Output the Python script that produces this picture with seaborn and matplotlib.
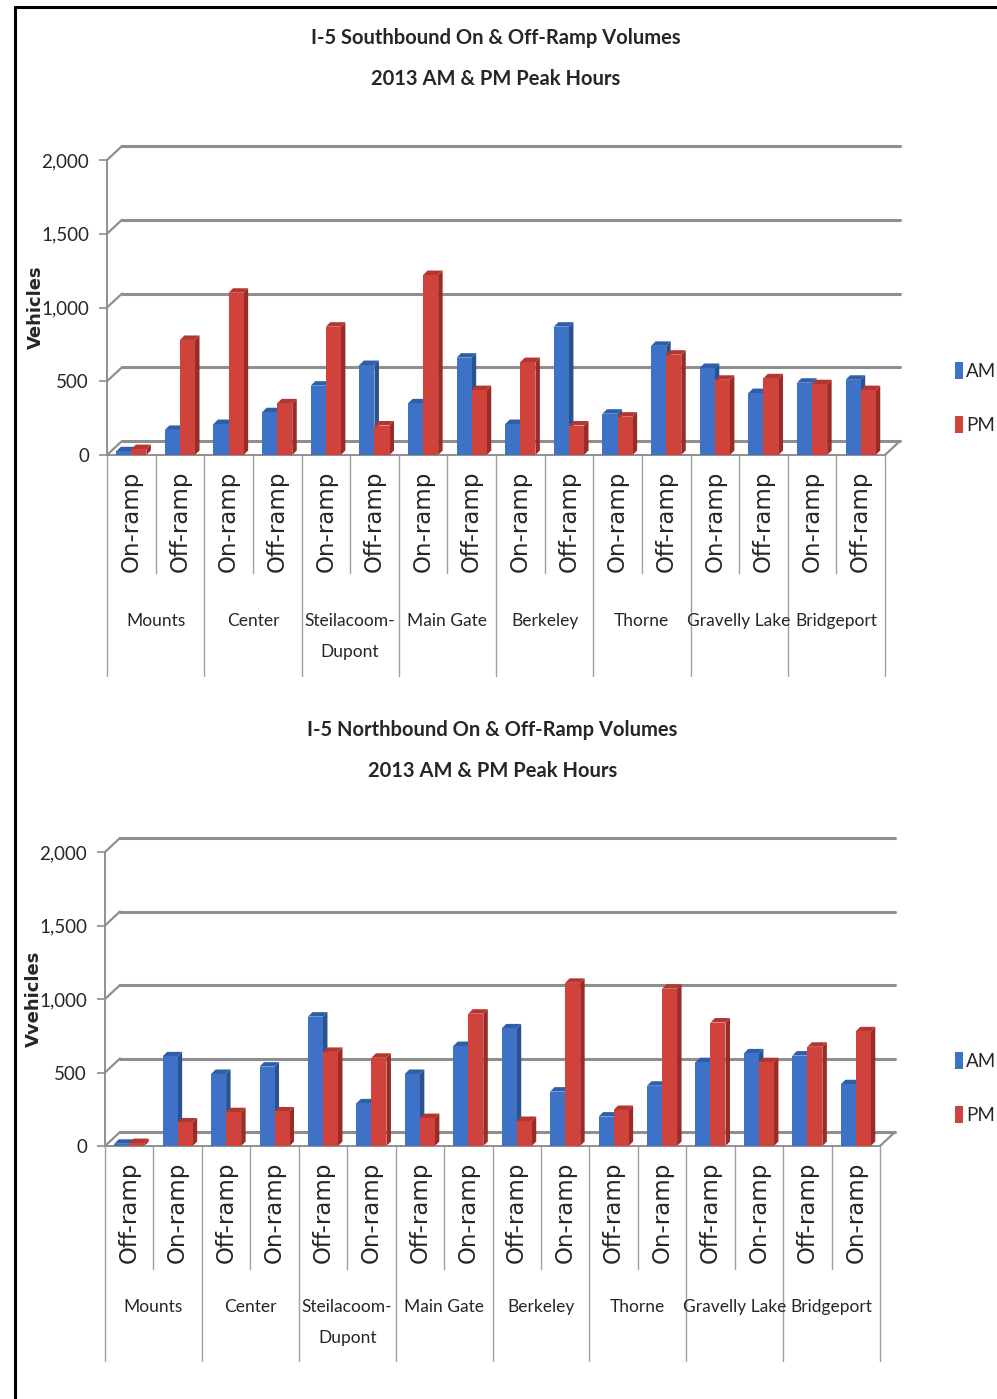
import numpy as np
import pandas as pd
import matplotlib
matplotlib.use("Agg")
import matplotlib.pyplot as plt
import seaborn as sns
from matplotlib.patches import Polygon, Patch
from matplotlib.lines import Line2D

# interchanges along I-5
groups = ["Mounts", "Center", "Steilacoom-\nDupont", "Main Gate",
          "Berkeley", "Thorne", "Gravelly Lake", "Bridgeport"]

# southbound: on-ramp then off-ramp per interchange
sb_ramps = ["On-ramp", "Off-ramp"] * 8
sb_am = [25, 170, 210, 290, 470, 610, 350, 660, 210, 870, 280, 740, 590, 420, 490, 510]
sb_pm = [40, 780, 1100, 350, 870, 200, 1220, 440, 630, 200, 260, 680, 510, 520, 480, 440]

# northbound: off-ramp then on-ramp per interchange
nb_ramps = ["Off-ramp", "On-ramp"] * 8
nb_am = [15, 610, 490, 540, 880, 290, 490, 680, 800, 370, 200, 410, 570, 630, 615, 420]
nb_pm = [20, 160, 230, 235, 640, 600, 190, 900, 170, 1110, 245, 1070, 840, 570, 675, 780]

periods = ["AM", "PM"]
colors = ["#3D72C6", "#D0423C"]
side_colors = ["#2A528F", "#9A2C27"]
top_colors = ["#2E5FA8", "#B5352F"]
yticks = [0, 500, 1000, 1500, 2000]
grid_color = "#8F8F8F"

sns.set_style("white")
plt.rcParams["font.family"] = ["Lato", "DejaVu Sans"]

W, H = 997, 1399
fig = plt.figure(figsize=(W / 100, H / 100), dpi=100)


def draw_panel(rect, ramps, am, pm, title, ylabel, sep_short, sep_long, grp_y, legend_y):
    left, top, right, bottom = rect
    ax = fig.add_axes([left / W, 1 - bottom / H, (right - left) / W, (bottom - top) / H])
    pos = [f"{i:02d}" for i in range(len(ramps))]
    df = pd.DataFrame({
        "pos": pos * 2,
        "period": ["AM"] * len(am) + ["PM"] * len(pm),
        "vehicles": am + pm,
    })
    sns.barplot(data=df, x="pos", y="vehicles", hue="period", order=pos,
                hue_order=periods, palette=colors, saturation=1, width=0.62,
                legend=False, ax=ax, zorder=3, linewidth=0, edgecolor="none")
    ax.set_xlim(-0.5, len(ramps) - 0.5)
    ax.set_ylim(0, 2000)

    # pixel -> data scale, for the fake 3D depth
    sx = ax.bbox.width / len(ramps)
    sy = ax.bbox.height / 2000
    dx, dy = 15 / sx, 14 / sy
    bdx, bdy = 4.5 / sx, 4.5 / sy
    x0, x1 = -0.5, len(ramps) - 0.5

    # back wall gridlines + floor
    for v in yticks:
        ax.plot([x0, x0 + dx], [v, v + dy], color=grid_color, lw=1.6, clip_on=False, zorder=1)
        ax.plot([x0 + dx, x1 + dx], [v + dy, v + dy], color=grid_color, lw=2.2,
                clip_on=False, zorder=1)
    ax.plot([x1, x1 + dx], [0, dy], color=grid_color, lw=1.6, clip_on=False, zorder=1)

    # bar side and top faces
    for p in ax.patches:
        x, w, h = p.get_x(), p.get_width(), p.get_height()
        k = 0 if p.get_facecolor()[2] > 0.5 else 1
        side = Polygon([(x + w, 0), (x + w, h), (x + w + bdx, h + bdy), (x + w + bdx, bdy)],
                       closed=True, facecolor=side_colors[k], edgecolor="none", zorder=2,
                       clip_on=False)
        cap = Polygon([(x, h), (x + w, h), (x + w + bdx, h + bdy), (x + bdx, h + bdy)],
                      closed=True, facecolor=top_colors[k], edgecolor="none", zorder=2.5,
                      clip_on=False)
        ax.add_patch(side)
        ax.add_patch(cap)

    for s in ["top", "right"]:
        ax.spines[s].set_visible(False)
    for s in ["left", "bottom"]:
        ax.spines[s].set_color(grid_color)
        ax.spines[s].set_linewidth(1.4)

    ax.set_yticks(yticks)
    ax.set_yticklabels([f"{v:,}" for v in yticks], fontsize=13.5)
    ax.tick_params(axis="y", length=6, width=1.2, color=grid_color, pad=7, left=True)
    ax.set_xticks(range(len(ramps)))
    ax.set_xticklabels(ramps, rotation=90, fontsize=16.5, family="DejaVu Sans")
    ax.tick_params(axis="x", length=0, pad=11)
    ax.set_xlabel("")
    ax.set_ylabel(ylabel, fontsize=13, fontweight="bold", family="DejaVu Sans")
    ax.yaxis.set_label_coords(-0.08, 0.5)

    # category separators below the axis
    trans = ax.get_xaxis_transform()
    for i in range(len(ramps) + 1):
        xb = i - 0.5
        yb = sep_long if i % 2 == 0 else sep_short
        ax.plot([xb, xb], [0, yb], transform=trans, color="#A0A0A0", lw=1.0, clip_on=False)
    for g, name in enumerate(groups):
        ax.text(2 * g + 0.5, grp_y, name, transform=trans, ha="center", va="top",
                fontsize=12.5, linespacing=2.2)

    cx = (left + right) / 2 / W
    fig.text(cx, 1 - (top - 122) / H, title[0], ha="center", va="center",
             fontsize=14.5, fontweight="bold")
    fig.text(cx, 1 - (top - 81) / H, title[1], ha="center", va="center",
             fontsize=14.5, fontweight="bold")

    handles = [Patch(facecolor=c, edgecolor="none") for c in colors]
    fig.legend(handles, periods, loc="center left",
               bbox_to_anchor=(955 / W, 1 - legend_y / H), frameon=False,
               fontsize=13.5, handlelength=0.45, handleheight=1.0, handletextpad=0.15,
               labelspacing=1.9, borderpad=0, borderaxespad=0)
    return ax


draw_panel((107, 160, 885, 455), sb_ramps, sb_am, sb_pm,
           ("I-5 Southbound On & Off-Ramp Volumes", "2013 AM & PM Peak Hours"),
           "Vehicles", -0.40, -0.75, -0.535, 398)
draw_panel((105, 852, 880, 1146), nb_ramps, nb_am, nb_pm,
           ("I-5 Northbound On & Off-Ramp Volumes", "2013 AM & PM Peak Hours"),
           "Vvehicles", -0.42, -0.73, -0.52, 1088)

# page frame
fig.add_artist(Line2D([15 / W, 15 / W], [0, 1 - 7 / H], color="black", lw=2.2))
fig.add_artist(Line2D([15 / W, 1], [1 - 7 / H, 1 - 7 / H], color="black", lw=2.2))

fig.savefig("out.png", dpi=100)
